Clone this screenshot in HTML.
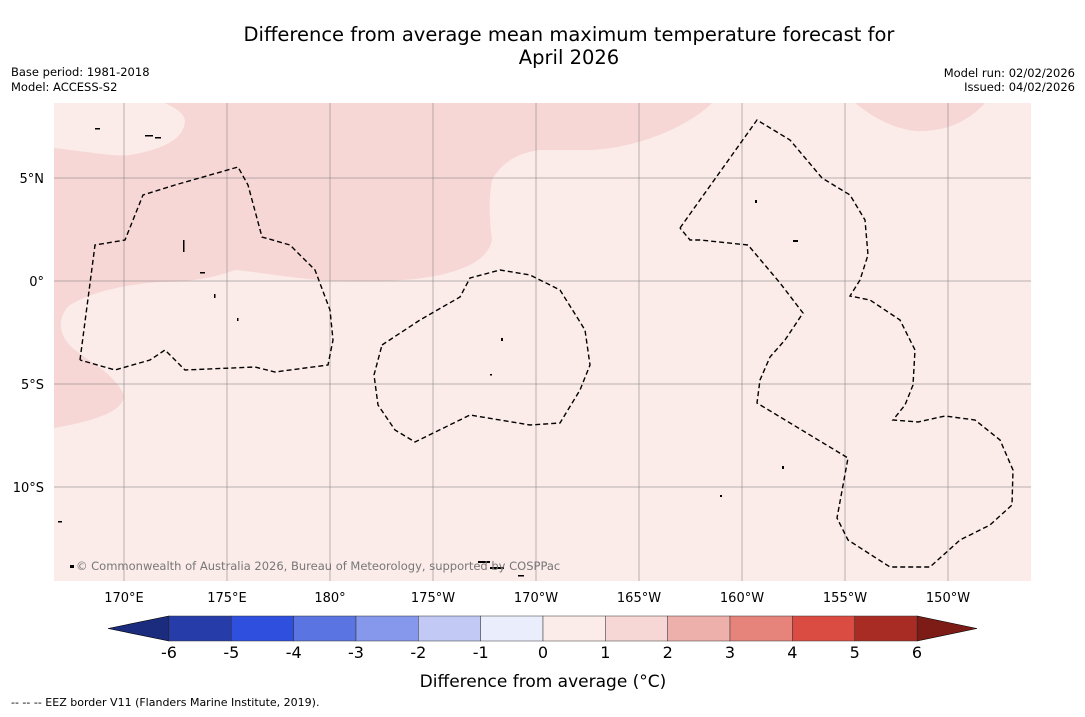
<!DOCTYPE html>
<html><head><meta charset="utf-8"><style>
body{margin:0;background:#fff;font-family:"DejaVu Sans","Liberation Sans",sans-serif;}
</style></head><body>
<svg width="1085" height="713" viewBox="0 0 1085 713" xmlns="http://www.w3.org/2000/svg">
<rect width="1085" height="713" fill="#fff"/>
<text x="569" y="41" font-size="19.5" text-anchor="middle">Difference from average mean maximum temperature forecast for</text>
<text x="569" y="64" font-size="19.5" text-anchor="middle">April 2026</text>
<text x="11" y="76" font-size="11.5">Base period: 1981-2018</text>
<text x="11" y="91" font-size="11.5">Model: ACCESS-S2</text>
<text x="1075" y="77" font-size="11.5" text-anchor="end">Model run: 02/02/2026</text>
<text x="1075" y="91" font-size="11.5" text-anchor="end">Issued: 04/02/2026</text>
<g id="map">
<rect x="54" y="103" width="977" height="478" fill="#fbebe9"/>
<path fill="#f6d7d5" d="M165,103 L712,103 C690,125 640,148 590,150 L540,150 C515,153 500,165 492,180 C488,200 490,225 492,240 C488,258 470,268 440,275 C410,281 380,282 340,281 C300,280 260,272 235,270 C220,275 200,282 160,282 C120,285 90,293 70,305 C58,315 56,335 75,350 C95,365 115,375 124,395 C124,410 100,420 54,428 L54,148 C90,152 115,157 130,155 C160,150 185,140 185,120 C183,112 175,108 165,103 Z"/>
<path fill="#f6d7d5" d="M855,103 L985,103 C965,125 940,132 915,131 C890,128 870,115 855,103 Z"/>
<g id="grid" stroke="#777" stroke-width="0.5"></g>
<g fill="none" stroke="#000" stroke-width="1.4" stroke-dasharray="5,3">
<polyline points="80,360 95,245 125,240 143,195 175,185 238,167 248,185 262,237 290,245 315,270 330,310 333,340 328,365 275,372 255,367 185,370 165,350 150,360 115,370 80,360"/>
<polyline points="382,345 420,320 460,297 470,278 500,270 530,275 560,290 585,330 590,365 580,390 560,423 530,425 470,415 415,442 395,430 378,405 374,375 382,345"/>
<polyline points="680,228 757,120 790,140 822,178 850,195 865,220 868,255 860,280 850,296 870,300 900,320 915,350 913,385 905,405 893,420 918,422 945,416 975,420 1000,440 1013,470 1012,505 990,525 960,540 930,567 890,567 848,540 837,518 848,458 757,403 760,380 770,357 785,340 803,313 780,283 748,245 700,240 690,240 680,228"/>
</g>
<g fill="#000">
<rect x="145" y="135" width="8" height="1.5"/><rect x="155" y="137" width="6" height="1.5"/><rect x="95" y="128" width="5" height="1.5"/>
<rect x="183" y="240" width="1.5" height="12"/><rect x="200" y="272" width="5" height="1.5"/><rect x="214" y="294" width="1.5" height="4"/>
<rect x="237" y="318" width="1.5" height="3"/><rect x="755" y="200" width="2" height="3"/><rect x="793" y="240" width="5" height="2"/>
<rect x="501" y="338" width="2" height="3"/><rect x="490" y="374" width="2" height="1.5"/><rect x="782" y="466" width="2" height="3"/>
<rect x="478" y="561" width="12" height="2"/><rect x="490" y="567" width="14" height="2"/><rect x="70" y="565" width="4" height="3"/>
<rect x="58" y="521" width="4" height="1.5"/><rect x="720" y="495" width="2" height="2"/><rect x="518" y="575" width="6" height="1.5"/>
</g>
<text x="76" y="570" font-size="11.5" fill="#777">© Commonwealth of Australia 2026, Bureau of Meteorology, supported by COSPPac</text>
</g>
<g id="axes" font-size="13"></g>
<g id="cbar"></g>
<text x="543" y="687" font-size="17" text-anchor="middle">Difference from average (°C)</text>
<text x="11" y="706" font-size="11">-- -- -- EEZ border V11 (Flanders Marine Institute, 2019).</text>
</svg>
<script>
const lonTicks=[170,175,180,-175,-170,-165,-160,-155,-150];
const lonLabels=["170°E","175°E","180°","175°W","170°W","165°W","160°W","155°W","150°W"];
const latTicks=[5,0,-5,-10];
const latLabels=["5°N","0°","5°S","10°S"];
const levels=[-6,-5,-4,-3,-2,-1,0,1,2,3,4,5,6];
const colors=["#263ca8","#2f4fde","#5a74e2","#8598ec","#c1c9f4","#eaedfb","#fbebe9","#f6d7d5","#eeb0aa","#e6847c","#da4c41","#a92c24"];
const ns="http://www.w3.org/2000/svg";
function xLon(l){let e=l<0?360+l:l;return 124+(e-170)*20.6;}
function yLat(l){return 281-l*20.6;}
const grid=document.getElementById('grid'),axes=document.getElementById('axes'),cb=document.getElementById('cbar');
function mk(t,a,p){const e=document.createElementNS(ns,t);for(const k in a)e.setAttribute(k,a[k]);p.appendChild(e);return e;}
lonTicks.forEach((l,i)=>{const x=xLon(l);
const ln=mk('line',{x1:x,y1:103,x2:x,y2:581},grid);


const t=mk('text',{x:x,y:602,'text-anchor':'middle'},axes);t.textContent=lonLabels[i];

});
latTicks.forEach((l,i)=>{const y=yLat(l);
const ln=mk('line',{x1:54,y1:y,x2:1031,y2:y},grid);


const t=mk('text',{x:44,y:y+5,'text-anchor':'end'},axes);t.textContent=latLabels[i];

});
const cx0=169,cx1=917,cy0=616,cy1=641,n=colors.length;
function xv(v){return cx0+(v-levels[0])/(levels[n]-levels[0])*(cx1-cx0);}
const l1=mk('polygon',{points:`108,628.5 ${cx0},${cy0} ${cx0},${cy1}`,fill:"#1b2b7e",stroke:"#000","stroke-width":0.6},cb);


const r1=mk('polygon',{points:`977,628.5 ${cx1},${cy0} ${cx1},${cy1}`,fill:"#7d1c16",stroke:"#000","stroke-width":0.6},cb);


colors.forEach((c,i)=>{const x=xv(levels[i]);const r=mk('rect',{x:x,y:cy0,width:xv(levels[i+1])-x,height:cy1-cy0,fill:c,stroke:"#333","stroke-width":0.5},cb);

});
levels.forEach(v=>{const t=mk('text',{x:xv(v),y:658,'text-anchor':'middle','font-size':16},cb);t.textContent=String(v);

});
</script>
</body></html>
